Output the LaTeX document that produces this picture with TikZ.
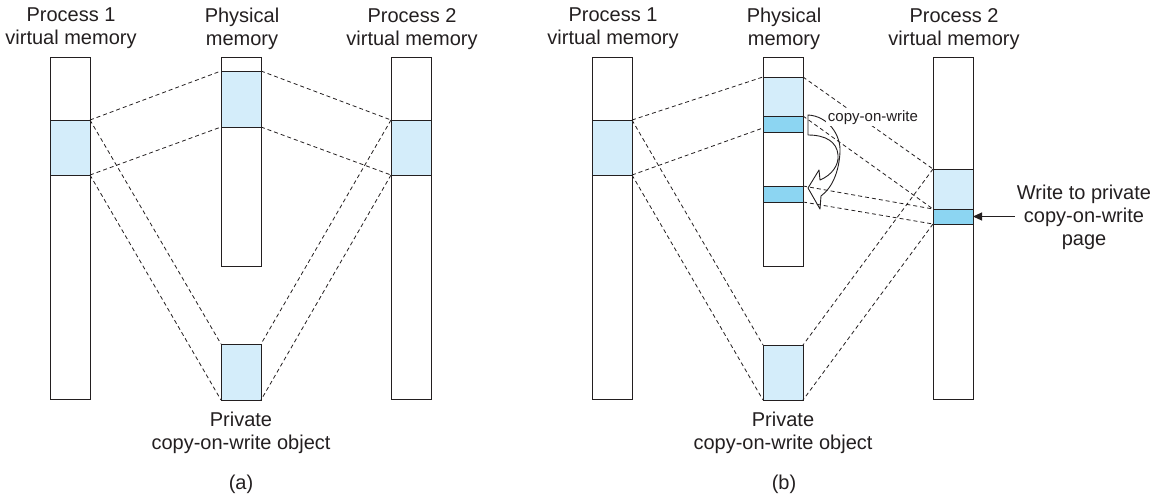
\documentclass[tikz,border=0pt]{standalone}
\usepackage{fontspec}
\setmainfont{Liberation Sans}
\usetikzlibrary{arrows.meta}
\definecolor{lightpg}{RGB}{212,237,250}
\definecolor{darkpg}{RGB}{140,213,242}
\definecolor{ink}{RGB}{35,31,32}
\begin{document}
\begin{tikzpicture}[x=1pt,y=-1pt,
  col/.style={draw=ink, line width=1pt, minimum width=40pt, inner sep=0pt, outer sep=0pt},
  lpage/.style={col, fill=lightpg},
  dpage/.style={col, fill=darkpg},
  maplink/.style={draw=ink, dash pattern=on 4pt off 3pt, line width=0.8pt},
  lbl/.style={font=\fontsize{20}{23}\selectfont, text=ink, align=center, inner sep=0pt, anchor=north},
  sublbl/.style={font=\fontsize{20}{23}\selectfont, text=ink, inner sep=0pt, anchor=base}
]
\useasboundingbox (0,0) rectangle (1152,498);

% ---------------- (a) ----------------
\node[col, minimum height=342pt] (colA1) at (70,228) {};
\node[col, minimum height=209pt] (colAP) at (241,161.5) {};
\node[col, minimum height=342pt] (colA2) at (411,228) {};
\node[lpage, minimum height=55pt] (shA1) at (70,147.5) {};
\node[lpage, minimum height=56pt] (shAP) at (241,99) {};
\node[lpage, minimum height=55pt] (shA2) at (411,147.5) {};
\node[lpage, minimum height=56pt] (objA) at (241,372) {};

\draw[maplink] (shA1.north east) -- (shAP.north west);
\draw[maplink] (shA1.south east) -- (shAP.south west);
\draw[maplink] (shAP.north east) -- (shA2.north west);
\draw[maplink] (shAP.south east) -- (shA2.south west);
\draw[maplink] (shA1.north east) -- (objA.north west);
\draw[maplink] (shA1.south east) -- (objA.south west);
\draw[maplink] (shA2.north west) -- (objA.north east);
\draw[maplink] (shA2.south west) -- (objA.south east);

\node[lbl] (tA1) at (71,8) {Process 1\\virtual memory};
\node[lbl] (tAP) at (242,8) {Physical\\memory};
\node[lbl] (tA2) at (412,8) {Process 2\\virtual memory};
\node[lbl] (tAO) at (241,412) {Private\\copy-on-write object};
\node[sublbl] (capA) at (241,489) {(a)};

% ---------------- (b) ----------------
\node[col, minimum height=342pt] (colB1) at (612,228) {};
\node[col, minimum height=209pt] (colBP) at (783,161.5) {};
\node[col, minimum height=342pt] (colB2) at (953,228) {};
\node[lpage, minimum height=55pt] (shB1) at (612,147.5) {};
\node[lpage, minimum height=39pt] (shBP) at (783,96.5) {};
\node[dpage, minimum height=16pt] (dkBP1) at (783,124) {};
\node[dpage, minimum height=16pt] (dkBP2) at (783,194) {};
\node[lpage, minimum height=40pt] (shB2) at (953,189) {};
\node[dpage, minimum height=15pt] (dkB2) at (953,216.5) {};
\node[lpage, minimum height=55pt] (objB) at (783,372.5) {};

\draw[maplink] (shB1.north east) -- (shBP.north west);
\draw[maplink] (shB1.south east) -- ([yshift=4pt]dkBP1.south west);
\draw[maplink] (shB1.north east) -- (objB.north west);
\draw[maplink] (shB1.south east) -- (objB.south west);
\draw[maplink] (shBP.north east) -- (shB2.north west);
\draw[maplink] (dkBP1.north east) -- (dkB2.north west);
\draw[maplink] (dkBP2.north east) -- (dkB2.north west);
\draw[maplink] (dkBP2.south east) -- (dkB2.south west);
\draw[maplink] (shB2.north west) -- (objB.north east);
\draw[maplink] (dkB2.south west) -- (objB.south east);

% curved copy-on-write arrow
\draw[ink, line width=0.9pt, line join=round]
  (808,115) .. controls (828,116) and (841,135) .. (840,152)
            .. controls (839,172) and (832,188) .. (821,196)
  -- (820,209) -- (808,188) -- (819,170) -- (820,180)
            .. controls (832,175) and (839,165) .. (838,155)
            .. controls (837,142) and (826,135) .. (808,135) -- cycle;
\node[font=\fontsize{15}{17}\selectfont, text=ink, fill=white, inner sep=1.5pt, anchor=base] (cow) at (873,121) {copy-on-write};

\node[lbl] (tB1) at (613,8) {Process 1\\virtual memory};
\node[lbl] (tBP) at (784,8) {Physical\\memory};
\node[lbl] (tB2) at (954,8) {Process 2\\virtual memory};
\node[lbl] (tBO) at (783,412) {Private\\copy-on-write object};
\node[sublbl] (capB) at (784,489) {(b)};

\node[lbl, inner sep=2pt] (wlbl) at (1084,183) {Write to private\\copy-on-write\\page};
\draw[ink, line width=1pt, -{Triangle[length=9pt,width=8pt]}] (wlbl.west |- dkB2.east) -- (dkB2.east);
\end{tikzpicture}
\end{document}
